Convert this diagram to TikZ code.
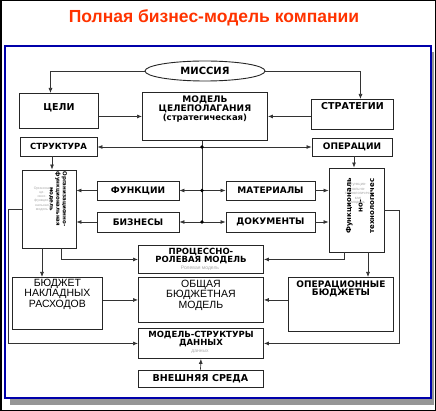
\documentclass[tikz,border=0pt]{standalone}
\usepackage{fontspec}
\setmainfont{Liberation Sans}
\newfontfamily\dejavu{DejaVu Sans}
\usetikzlibrary{arrows.meta,shapes.geometric,calc}
\definecolor{titlered}{RGB}{255,51,0}
\definecolor{frameblue}{RGB}{0,0,170}
\definecolor{shadowgray}{RGB}{150,150,150}
\definecolor{ghost}{RGB}{170,170,170}
\begin{document}
\begin{tikzpicture}[x=1pt,y=-1pt,
    bx/.style={draw=black!85, line width=0.9pt, fill=white, inner sep=0pt,
      font=\dejavu\bfseries\fontsize{9}{9}\selectfont},
    tbx/.style 2 args={bx, anchor=north west, align=center,
      text height=#1, text depth=#2},
    ln/.style={draw=black!80, line width=0.7pt},
    arr/.style={ln, -{Latex[length=5pt,width=4pt]}},
    dot/.style={circle, fill=black, inner sep=0pt, minimum size=3.6pt},
    rottext/.style={inner sep=0pt, align=center},
    ghosttext/.style={text=ghost, inner sep=0pt, align=center},
  ]
  \useasboundingbox (0,0) rectangle (436,411);

  % frame and shadow
  \fill[shadowgray] (10,52) rectangle (434,405);
  \draw[frameblue, line width=1.2pt, fill=white] (5,46) rectangle (431,398);
  \draw[black, line width=1.5pt] (0.75,0.75) rectangle (435.25,410.25);

  \node[text=titlered, font=\bfseries\fontsize{17.5}{20}\selectfont] (ttl) at (214,18)
    {Полная бизнес-модель компании};

  % top row
  \node[ellipse, draw=black!85, line width=0.9pt, fill=white, inner sep=0pt,
    minimum width=120, minimum height=20,
    font=\dejavu\bfseries\fontsize{10}{10}\selectfont] (mis) at (205,71) {МИССИЯ};
  \node[tbx={17}{18}, text width=79, font=\dejavu\bfseries\fontsize{9.5}{9}\selectfont]
    (cel) at (19,93) {ЦЕЛИ};
  \node[tbx={10}{38}, text width=125] (mcp) at (142,92)
    {МОДЕЛЬ\\ЦЕЛЕПОЛАГАНИЯ\\{\fontsize{8.5}{9}\selectfont(стратегическая)}};
  \node[tbx={10}{20}, text width=82, font=\dejavu\bfseries\fontsize{9.5}{9}\selectfont]
    (str) at (311,99) {СТРАТЕГИИ};

  \node[bx, minimum width=77, minimum height=19,
    font=\dejavu\bfseries\fontsize{8.5}{9}\selectfont] (stu) at (58.5,146.5) {СТРУКТУРА};
  \node[bx, minimum width=80, minimum height=18] (opr) at (352,147) {ОПЕРАЦИИ};

  % tall side boxes
  \node[bx, minimum width=54, minimum height=78] (ofm) at (49,209) {};
  \node[bx, minimum width=55, minimum height=84] (ftm) at (356.5,210) {};
  \node[ghosttext, font=\fontsize{3.5}{4.2}\selectfont] (ofmg) at (42,199)
    {Организа-\\ци-\\онно-\\функцио-\\нальная\\модель};
  \node[rottext, rotate=-90, font=\dejavu\bfseries\fontsize{5.5}{6.5}\selectfont]
    (ofmtxt) at (58,199) {Организационно-\\функциональная\\модель};
  \node[ghosttext, font=\fontsize{4}{4.5}\selectfont] (ftmg) at (358,194)
    {Функцио-\\нально-\\технологичес-\\кая\\модель};
  \node[rottext, rotate=90, font=\dejavu\bfseries\fontsize{7}{11.5}\selectfont]
    (ftmtxt) at (360,206) {Функциональ\\но-\\технологичес};

  % middle boxes
  \node[bx, minimum width=82, minimum height=19] (fun) at (138,190.5) {ФУНКЦИИ};
  \node[bx, minimum width=82, minimum height=20] (biz) at (138,222) {БИЗНЕСЫ};
  \node[bx, minimum width=89, minimum height=19] (mat) at (270.5,190.5) {МАТЕРИАЛЫ};
  \node[bx, minimum width=89, minimum height=20] (doc) at (270.5,222) {ДОКУМЕНТЫ};

  % lower boxes
  \node[tbx={9}{19}, text width=125, font=\dejavu\bfseries\fontsize{8.5}{8}\selectfont]
    (prm) at (138,245) {ПРОЦЕССНО-\\РОЛЕВАЯ МОДЕЛЬ};
  \node[ghosttext, font=\fontsize{5}{5}\selectfont] (prmg) at (200,268.5) {Ролевая модель};
  \node[tbx={10}{35}, text width=125, font=\fontsize{10.5}{9}\selectfont]
    (obm) at (138,277) {ОБЩАЯ\\БЮДЖЕТНАЯ\\МОДЕЛЬ};
  \node[tbx={9}{43}, text width=90, font=\fontsize{10.5}{9}\selectfont]
    (bnr) at (12,277) {БЮДЖЕТ\\НАКЛАДНЫХ\\РАСХОДОВ};
  \node[tbx={10}{44}, text width=105, font=\dejavu\bfseries\fontsize{9}{8.5}\selectfont]
    (opb) at (288,277) {ОПЕРАЦИОННЫЕ\\БЮДЖЕТЫ};
  \node[tbx={9}{21}, text width=125, font=\dejavu\bfseries\fontsize{8.5}{8}\selectfont]
    (msd) at (138,328) {МОДЕЛЬ-СТРУКТУРЫ\\ДАННЫХ};
  \node[ghosttext, font=\fontsize{5}{5}\selectfont] (msdg) at (200,352) {данных};
  \node[bx, minimum width=125, minimum height=17,
    font=\dejavu\bfseries\fontsize{9.5}{9}\selectfont] (vsr) at (200.5,378.5) {ВНЕШНЯЯ СРЕДА};

  % junctions
  \coordinate (j1) at (202,147);
  \coordinate (j2) at (202,190.5);
  \coordinate (j3) at (202,222);

  % connectors
  \draw[arr] (mis.west) -| ([xshift=-8.5pt]cel.north);
  \draw[arr] (mis.east) -| ([xshift=8pt]str.north);
  \draw[arr] (cel.east |- mcp) -- (mcp.west);
  \draw[arr] (str.west |- mcp) -- (mcp.east);

  \draw[ln] (mcp.south -| j1) -- (j3);
  \draw[arr] (j1) -- (stu.east |- j1);
  \draw[arr] (j1) -- (opr.west |- j1);
  \draw[arr] (j2) -- (fun.east |- j2);
  \draw[arr] (j2) -- (mat.west |- j2);
  \draw[arr] (j3) -- (biz.east |- j3);
  \draw[arr] (j3) -- (doc.west |- j3);
  \node[dot] (d1) at (j1) {};
  \node[dot] (d2) at (j2) {};
  \node[dot] (d3) at (j3) {};

  \draw[arr] (fun.west) -- (fun.west -| ofm.east);
  \draw[arr] (biz.west) -- (biz.west -| ofm.east);
  \draw[arr] (mat.east) -- (mat.east -| ftm.west);
  \draw[arr] (doc.east) -- (doc.east -| ftm.west);

  \draw[arr] ([xshift=-6.5pt]stu.south) -- ([xshift=-6.5pt]stu.south |- ofm.north);
  \draw[arr] ([xshift=2pt]opr.south) -- ([xshift=2pt]opr.south |- ftm.north);

  \draw[arr] ([xshift=-7pt]ofm.south) -- ([xshift=-7pt]ofm.south |- bnr.north);
  \draw[arr] ([xshift=12pt]ofm.south) |- (prm.west);
  \draw[arr] (ofm.west) -- ++(-13,0) |- (msd.west);
  \draw[arr] ([xshift=-12.5pt]ftm.south) |- (prm.east);
  \draw[arr] ([xshift=11.5pt]ftm.south) -- ([xshift=11.5pt]ftm.south |- opb.north);
  \draw[arr] (ftm.east) -- ++(15,0) |- (msd.east);

  \draw[arr] (bnr.east |- obm) -- (obm.west);
  \draw[arr] (opb.west |- obm) -- (obm.east);
  \draw[arr] (vsr.north) -- (msd.south);
\end{tikzpicture}
\end{document}
